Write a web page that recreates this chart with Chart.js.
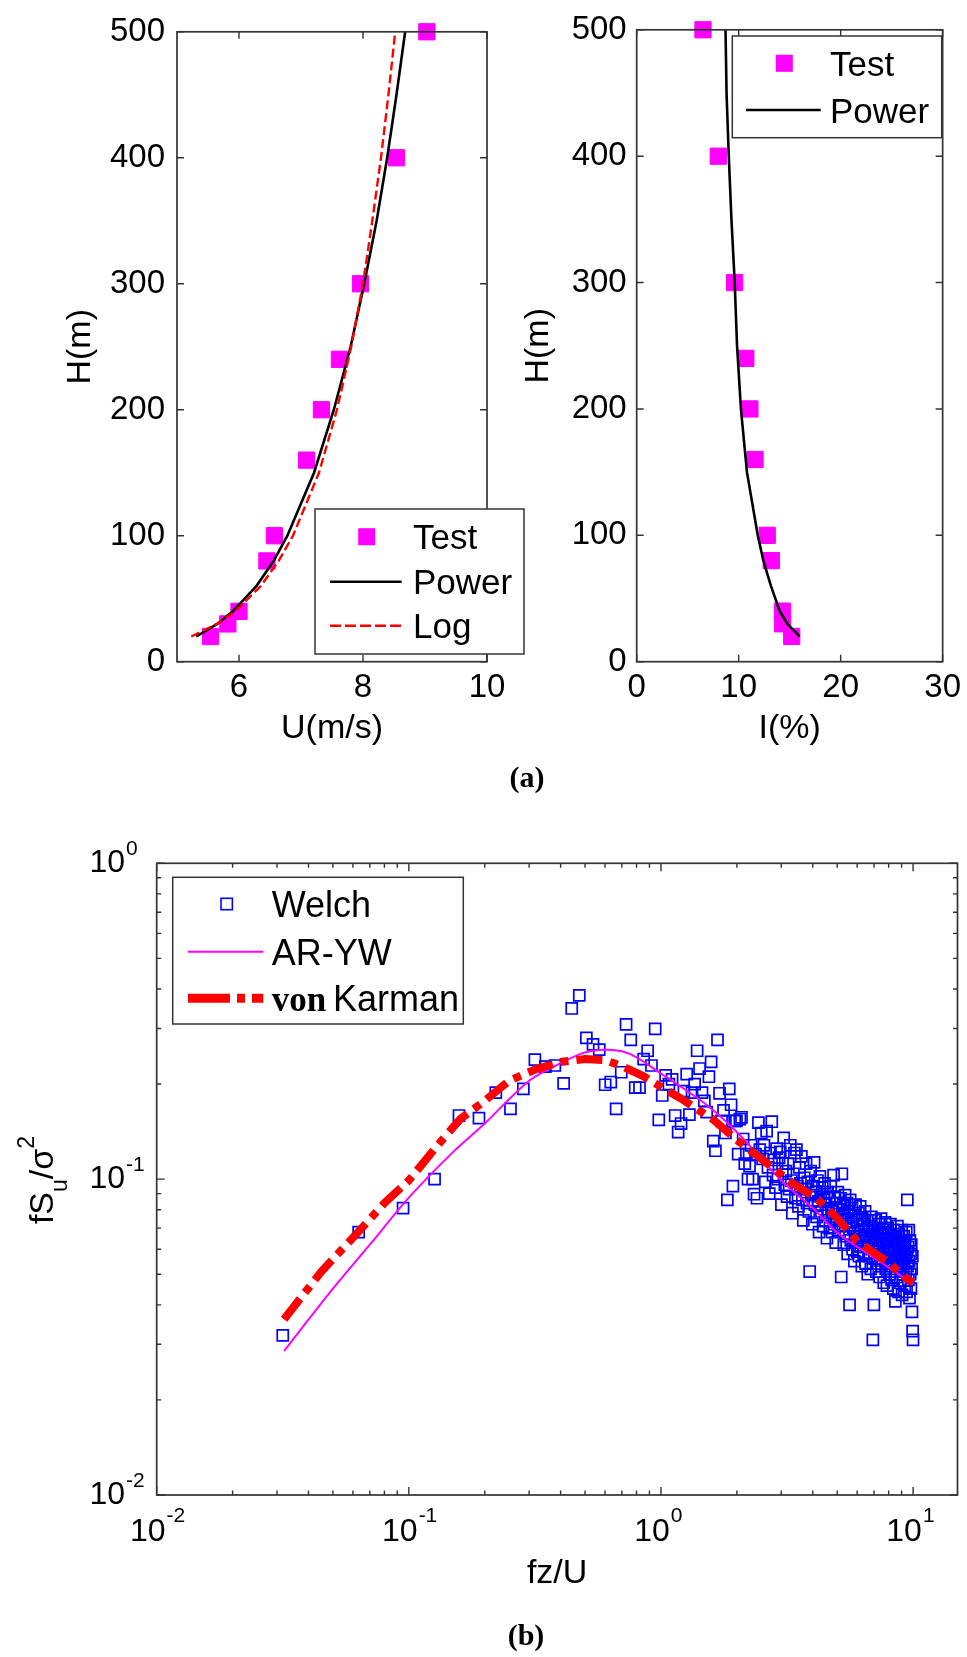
<!DOCTYPE html>
<html>
<head>
<meta charset="utf-8">
<script src="https://cdn.jsdelivr.net/npm/chart.js"></script>
<style>
html,body{margin:0;padding:0;background:#fff;}
body{width:967px;height:1657px;position:relative;overflow:hidden;font-family:'Liberation Sans',Arial,sans-serif;}
canvas{position:absolute;}
#ov{position:absolute;left:0;top:0;pointer-events:none;}
</style>
</head>
<body>
<canvas id="cA" width="515" height="760" style="left:0px;top:0px"></canvas>
<canvas id="cB" width="467" height="760" style="left:500px;top:0px"></canvas>
<canvas id="cC" width="967" height="800" style="left:0px;top:800px"></canvas>

<svg id="ov" width="967" height="1657" font-family="Liberation Sans, Arial, sans-serif">
  <!-- legend, panel a left -->
  <rect x="315" y="509" width="209" height="145" fill="#fff" stroke="#333" stroke-width="1.5"/>
  <rect x="358.2" y="528.2" width="17" height="17" fill="#ff00ff"/>
  <text x="413" y="549" font-size="35">Test</text>
  <line x1="330" y1="581.7" x2="401.7" y2="581.7" stroke="#000" stroke-width="2.5"/>
  <text x="413" y="594" font-size="35">Power</text>
  <line x1="330" y1="625.7" x2="401.7" y2="625.7" stroke="#ff0000" stroke-width="2.4" stroke-dasharray="11,4"/>
  <text x="413" y="638" font-size="35">Log</text>

  <!-- legend, panel a right -->
  <rect x="732.3" y="36" width="209.4" height="101.7" fill="#fff" stroke="#333" stroke-width="1.5"/>
  <rect x="775.8" y="54.8" width="17" height="17" fill="#ff00ff"/>
  <text x="830" y="75.8" font-size="35">Test</text>
  <line x1="746" y1="110" x2="820.7" y2="110" stroke="#000" stroke-width="2.5"/>
  <text x="830" y="122.5" font-size="35">Power</text>

  <!-- legend, panel b -->
  <rect x="172.7" y="877.3" width="290.6" height="146.7" fill="#fff" stroke="#333" stroke-width="1.5"/>
  <rect x="221" y="898.3" width="11.4" height="11.4" fill="none" stroke="#0000ff" stroke-width="1.6"/>
  <text x="271.7" y="917" font-size="36">Welch</text>
  <line x1="188" y1="951.7" x2="263.3" y2="951.7" stroke="#ff00ff" stroke-width="2"/>
  <text x="271.7" y="964.6" font-size="36">AR-YW</text>
  <line x1="188" y1="998.3" x2="263.3" y2="998.3" stroke="#ff0000" stroke-width="9" stroke-dasharray="42,7,8,7"/>
  <text x="271.7" y="1011.2" font-size="35" font-family="Liberation Serif, Times New Roman, serif" font-weight="bold">von</text>
  <text x="333" y="1011.2" font-size="36">Karman</text>

  <!-- y title of panel b -->
  <text transform="translate(53,1180) rotate(-90)" text-anchor="middle" font-size="34">fS<tspan font-size="23" dy="14">u</tspan><tspan dy="-14">/σ</tspan><tspan font-size="23" dy="-19">2</tspan></text>

  <!-- captions -->
  <text x="527" y="787" text-anchor="middle" font-size="30" font-weight="bold" font-family="Liberation Serif, Times New Roman, serif">(a)</text>
  <text x="526" y="1645" text-anchor="middle" font-size="30" font-weight="bold" font-family="Liberation Serif, Times New Roman, serif">(b)</text>
</svg>

<script>
// ---------- data, panel (a) ----------
const heightsTest    = [20, 30, 40, 80, 100, 160, 200, 240, 300, 400, 500];
const windSpeedTest  = [5.54, 5.82, 6.00, 6.45, 6.57, 7.09, 7.33, 7.62, 7.96, 8.54, 9.03];
const turbulenceTest = [15.2, 14.3, 14.3, 13.2, 12.8, 11.6, 11.1, 10.7, 9.6, 8.0, 6.5];

const heightsFit      = [20, 30, 40, 60, 80, 100, 150, 200, 250, 300, 350, 400, 450, 500];
const windSpeedPower  = [5.31, 5.65, 5.90, 6.28, 6.56, 6.78, 7.21, 7.53, 7.80, 8.02, 8.22, 8.39, 8.54, 8.68];
const windSpeedLog    = [5.23, 5.64, 5.94, 6.35, 6.64, 6.87, 7.29, 7.58, 7.81, 8.00, 8.15, 8.29, 8.41, 8.52];
const turbulencePower = [15.97, 14.77, 14.03, 13.16, 12.42, 11.87, 10.81, 10.22, 9.84, 9.61, 9.29, 9.03, 8.81, 8.71];

const uTicks = [6, 8, 10];
const iTicks = [0, 10, 20, 30];
const hTicks = [0, 100, 200, 300, 400, 500];

// ---------- data, panel (b) ----------
const welchDf = 0.03162;   // frequency-bin spacing of the Welch estimate (fz/U)
const welchS = [
  0.032, 0.068, 0.081, 0.100, 0.159, 0.156, 0.188, 0.167, 0.193, 0.239,
  0.227, 0.229, 0.201, 0.347, 0.382, 0.280, 0.267, 0.257, 0.199, 0.203,
  0.167, 0.218, 0.309, 0.276, 0.195, 0.195, 0.240, 0.255, 0.229, 0.299,
  0.154, 0.184, 0.213, 0.200, 0.207, 0.159, 0.141, 0.150, 0.190, 0.215,
  0.160, 0.188, 0.200, 0.255, 0.224, 0.188, 0.177, 0.163, 0.211, 0.235,
  0.132, 0.123, 0.276, 0.187, 0.153, 0.165, 0.140, 0.086, 0.193, 0.172,
  0.095, 0.153, 0.153, 0.120, 0.155, 0.157, 0.134, 0.112, 0.120, 0.100,
  0.110, 0.128, 0.100, 0.0896, 0.120, 0.087, 0.151, 0.124, 0.140, 0.116,
  0.128, 0.098, 0.142, 0.109, 0.090, 0.121, 0.152, 0.103, 0.115, 0.094,
  0.125, 0.100, 0.117, 0.122, 0.083, 0.112, 0.135, 0.096, 0.106, 0.088,
  0.112, 0.093, 0.128, 0.099, 0.078, 0.104, 0.121, 0.087, 0.124, 0.095,
  0.082, 0.109, 0.097, 0.118, 0.086, 0.074, 0.101, 0.093, 0.112, 0.084,
  0.098, 0.079, 0.051, 0.106, 0.089, 0.072, 0.095, 0.113, 0.083, 0.091,
  0.076, 0.099, 0.085, 0.068, 0.102, 0.088, 0.079, 0.094, 0.071, 0.086,
  0.097, 0.074, 0.083, 0.065, 0.091, 0.078, 0.087, 0.070, 0.095, 0.081,
  0.068, 0.079, 0.103, 0.072, 0.088, 0.063, 0.084, 0.076, 0.091, 0.069,
  0.080, 0.071, 0.087, 0.049, 0.104, 0.074, 0.083, 0.062, 0.078, 0.089,
  0.066, 0.075, 0.084, 0.058, 0.079, 0.071, 0.040, 0.086, 0.064, 0.073,
  0.081, 0.060, 0.070, 0.077, 0.055, 0.068, 0.083, 0.063, 0.074, 0.059,
  0.071, 0.078, 0.057, 0.066, 0.082, 0.061, 0.069, 0.053, 0.075, 0.064,
  0.058, 0.072, 0.065, 0.079, 0.054, 0.067, 0.061, 0.074, 0.050, 0.069,
  0.063, 0.057, 0.071, 0.066, 0.052, 0.076, 0.060, 0.068, 0.031, 0.064,
  0.040, 0.070, 0.056, 0.062, 0.074, 0.051, 0.066, 0.059, 0.068, 0.054,
  0.072, 0.061, 0.049, 0.067, 0.058, 0.075, 0.053, 0.064, 0.070, 0.056,
  0.062, 0.047, 0.068, 0.059, 0.073, 0.052, 0.065, 0.057, 0.046, 0.063,
  0.070, 0.055, 0.061, 0.067, 0.050, 0.058, 0.072, 0.053, 0.064, 0.048,
  0.060, 0.066, 0.054, 0.045, 0.069, 0.057, 0.062, 0.051, 0.041, 0.065,
  0.056, 0.049, 0.063, 0.071, 0.053, 0.059, 0.044, 0.067, 0.055, 0.061,
  0.047, 0.064, 0.058, 0.052, 0.069, 0.043, 0.056, 0.062, 0.050, 0.066,
  0.054, 0.060, 0.046, 0.063, 0.057, 0.051, 0.068, 0.044, 0.059, 0.086,
  0.053, 0.061, 0.048, 0.069, 0.055, 0.042, 0.064, 0.050, 0.058, 0.045,
  0.062, 0.052, 0.038, 0.057, 0.033, 0.031
];

const arywX = [0.032, 0.05, 0.07, 0.1, 0.15, 0.2, 0.3, 0.4, 0.5, 0.6, 0.7, 0.8, 1.0, 1.5, 2, 3, 4, 5, 7, 10];
const arywS = [0.0286, 0.045, 0.062, 0.0874, 0.122, 0.150, 0.205, 0.233, 0.252, 0.257, 0.254, 0.243, 0.216, 0.173, 0.141, 0.099, 0.081, 0.0677, 0.0564, 0.0465];

const karmanX = [0.032, 0.045, 0.063, 0.08, 0.1, 0.13, 0.16, 0.2, 0.25, 0.32, 0.4, 0.5, 0.6, 0.7, 0.85, 1.0, 1.2, 1.4, 1.6, 1.8, 2.0, 2.5, 3.3, 4.1, 4.9, 6.0, 7.0, 8.0, 9.5, 10];
const karmanS = [0.036, 0.051, 0.068, 0.084, 0.099, 0.128, 0.155, 0.177, 0.205, 0.223, 0.235, 0.240, 0.238, 0.228, 0.212, 0.196, 0.180, 0.166, 0.155, 0.143, 0.133, 0.116, 0.0975, 0.0874, 0.0765, 0.0637, 0.0585, 0.0543, 0.0482, 0.047];

// tick labels of the log axes: base "10" plus exponent
const logBase       = '10';
const logXExponents = [-2, -1, 0, 1];
const logXExpText   = ['-2', '-1', '0', '1'];
const logYExponents = [-2, -1, 0];
const logYExpText   = ['-2', '-1', '0'];

// ---------- helpers ----------
const FONT = "'Liberation Sans', Arial, sans-serif";
const tickFontA = {family: FONT, size: 33};
const tickFontC = {family: FONT, size: 32};
const titleFont = {family: FONT, size: 34};
const noGrid = {display: false, drawTicks: false};

const frameTicks = {
  id: 'frameTicks',
  afterDatasetsDraw(chart, args, opts) {
    const {ctx, chartArea: a} = chart;
    const xs = chart.scales.x, ys = chart.scales.y;
    ctx.save();
    ctx.strokeStyle = '#333';
    ctx.lineWidth = 1.4;
    ctx.beginPath();
    xs.ticks.forEach(t => {
      const p = xs.getPixelForValue(t.value);
      if (p < a.left - 0.5 || p > a.right + 0.5) return;
      const L = t.big === false ? opts.minor : opts.major;
      ctx.moveTo(p, a.bottom); ctx.lineTo(p, a.bottom - L);
      ctx.moveTo(p, a.top); ctx.lineTo(p, a.top + L);
    });
    ys.ticks.forEach(t => {
      const p = ys.getPixelForValue(t.value);
      if (p < a.top - 0.5 || p > a.bottom + 0.5) return;
      const L = t.big === false ? opts.minor : opts.major;
      ctx.moveTo(a.left, p); ctx.lineTo(a.left + L, p);
      ctx.moveTo(a.right, p); ctx.lineTo(a.right - L, p);
    });
    ctx.stroke();
    ctx.lineWidth = 1.7;
    ctx.strokeRect(a.left, a.top, a.width, a.height);
    ctx.restore();
  }
};

// exponents of the "10" tick labels, placed from the library's own tick positions
const expLabels = {
  id: 'expLabels',
  afterDraw(chart, args, opts) {
    if (!opts || !opts.on) return;
    const {ctx, chartArea: a} = chart;
    ctx.save();
    ctx.fillStyle = '#000';
    ctx.textBaseline = 'alphabetic';
    ctx.textAlign = 'left';
    ctx.font = `${tickFontC.size}px ${FONT}`;
    const wb = ctx.measureText(logBase).width;
    ctx.font = `21px ${FONT}`;
    logXExponents.forEach((e, i) => {
      const p = chart.scales.x.getPixelForValue(Math.pow(10, e));
      ctx.fillText(logXExpText[i], p + opts.xOffset + wb / 2 + 1, a.bottom + 27);
    });
    logYExponents.forEach((e, i) => {
      const p = chart.scales.y.getPixelForValue(Math.pow(10, e));
      ctx.fillText(logYExpText[i], a.left - opts.yPad + 1, p - 8);
    });
    ctx.restore();
  }
};

function setTicks(values) {
  return s => { s.ticks = values.map(v => ({value: v})); };
}
function logTicks(exps) {
  const out = [];
  for (let i = 0; i < exps.length - 1; i++) {
    for (let m = 1; m < 10; m++) out.push({value: m * Math.pow(10, exps[i]), big: m === 1});
  }
  out.push({value: Math.pow(10, exps[exps.length - 1]), big: true});
  return out;
}
const logLabel = (v, i, ticks) => (ticks[i] && ticks[i].big) ? logBase : '';
const baseOpts = {responsive: false, animation: false, devicePixelRatio: 1, events: []};

// ---------- panel (a), wind speed ----------
new Chart(document.getElementById('cA'), {
  type: 'scatter',
  data: {datasets: [
    {label: 'Log', data: heightsFit.map((h, i) => ({x: windSpeedLog[i], y: h})),
     showLine: true, borderColor: '#ff0000', borderWidth: 2.4, borderDash: [9, 4], pointRadius: 0, tension: 0},
    {label: 'Power', data: heightsFit.map((h, i) => ({x: windSpeedPower[i], y: h})),
     showLine: true, borderColor: '#000000', borderWidth: 2.6, pointRadius: 0, tension: 0},
    {label: 'Test', data: heightsTest.map((h, i) => ({x: windSpeedTest[i], y: h})),
     pointStyle: 'rect', pointRadius: 11.5, backgroundColor: '#ff00ff', borderColor: '#ff00ff', borderWidth: 1, clip: false}
  ]},
  options: Object.assign({}, baseOpts, {
    layout: {padding: {left: 0, top: 23.3, right: 28, bottom: 0}},
    plugins: {legend: {display: false}, tooltip: {enabled: false}, frameTicks: {major: 7, minor: 4}},
    scales: {
      x: {type: 'linear', min: 5, max: 10, afterBuildTicks: setTicks(uTicks), afterFit: s => { s.height = 98.3; },
          grid: noGrid, border: {display: false},
          ticks: {font: tickFontA, color: '#000', padding: 6, maxRotation: 0, autoSkip: false},
          title: {display: true, text: 'U(m/s)', font: titleFont, color: '#000', padding: {top: 0, bottom: 10.8}}},
      y: {type: 'linear', min: 0, max: 500, afterBuildTicks: setTicks(hTicks), afterFit: s => { s.width = 177; },
          grid: noGrid, border: {display: false},
          ticks: {font: tickFontA, color: '#000', padding: 12, autoSkip: false},
          title: {display: true, text: 'H(m)', font: titleFont, color: '#000', padding: {top: 59.8, bottom: 0}}}
    }
  }),
  plugins: [frameTicks]
});

// ---------- panel (a), turbulence intensity ----------
new Chart(document.getElementById('cB'), {
  type: 'scatter',
  data: {datasets: [
    {label: 'Power', data: heightsFit.map((h, i) => ({x: turbulencePower[i], y: h})),
     showLine: true, borderColor: '#000000', borderWidth: 2.6, pointRadius: 0, tension: 0},
    {label: 'Test', data: heightsTest.map((h, i) => ({x: turbulenceTest[i], y: h})),
     pointStyle: 'rect', pointRadius: 11.5, backgroundColor: '#ff00ff', borderColor: '#ff00ff', borderWidth: 1, clip: false}
  ]},
  options: Object.assign({}, baseOpts, {
    layout: {padding: {left: 0, top: 23.3, right: 20.3, bottom: 0}},
    plugins: {legend: {display: false}, tooltip: {enabled: false}, frameTicks: {major: 7, minor: 4}},
    scales: {
      x: {type: 'linear', min: 0, max: 30, afterBuildTicks: setTicks(iTicks), afterFit: s => { s.height = 98.3; },
          grid: noGrid, border: {display: false},
          ticks: {font: tickFontA, color: '#000', padding: 6, maxRotation: 0, autoSkip: false},
          title: {display: true, text: 'I(%)', font: titleFont, color: '#000', padding: {top: 0, bottom: 10.8}}},
      y: {type: 'linear', min: 0, max: 500, afterBuildTicks: setTicks(hTicks), afterFit: s => { s.width = 136.7; },
          grid: noGrid, border: {display: false},
          ticks: {font: tickFontA, color: '#000', padding: 10, autoSkip: false},
          title: {display: true, text: 'H(m)', font: titleFont, color: '#000', padding: {top: 18.3, bottom: 0}}}
    }
  }),
  plugins: [frameTicks]
});

// ---------- panel (b), spectrum ----------
new Chart(document.getElementById('cC'), {
  type: 'scatter',
  data: {datasets: [
    {label: 'von Karman', data: karmanX.map((x, i) => ({x: x, y: karmanS[i]})),
     showLine: true, borderColor: '#ff0000', borderWidth: 8, borderDash: [26, 8, 8, 8], pointRadius: 0, tension: 0},
    {label: 'AR-YW', data: arywX.map((x, i) => ({x: x, y: arywS[i]})),
     showLine: true, borderColor: '#ff00ff', borderWidth: 2, pointRadius: 0, tension: 0.3},
    {label: 'Welch', data: welchS.map((s, i) => ({x: (i + 1) * welchDf, y: s})),
     pointStyle: 'rect', pointRadius: 7.8, backgroundColor: 'rgba(0,0,0,0)', borderColor: '#0000ff', borderWidth: 1.7}
  ]},
  options: Object.assign({}, baseOpts, {
    layout: {padding: {left: 0, top: 63.3, right: 5.3, bottom: 0}},
    plugins: {legend: {display: false}, tooltip: {enabled: false},
              frameTicks: {major: 8, minor: 4.5},
              expLabels: {on: true, xOffset: -9, yPad: 31.7}},
    scales: {
      x: {type: 'logarithmic', min: 0.01, max: 15,
          afterBuildTicks: s => { s.ticks = logTicks(logXExponents); }, afterFit: s => { s.height = 105; },
          grid: noGrid, border: {display: false},
          ticks: {font: tickFontC, color: '#000', padding: 18, labelOffset: -9, maxRotation: 0, autoSkip: false,
                  callback: logLabel},
          title: {display: true, text: 'fz/U', font: titleFont, color: '#000', padding: {top: 0, bottom: 5.8}}},
      y: {type: 'logarithmic', min: 0.01, max: 1,
          afterBuildTicks: s => { s.ticks = logTicks(logYExponents); }, afterFit: s => { s.width = 156.7; },
          grid: noGrid, border: {display: false},
          ticks: {font: tickFontC, color: '#000', padding: 31.7, autoSkip: false, callback: logLabel},
          title: {display: false}}
    }
  }),
  plugins: [frameTicks, expLabels]
});
</script>
</body>
</html>
